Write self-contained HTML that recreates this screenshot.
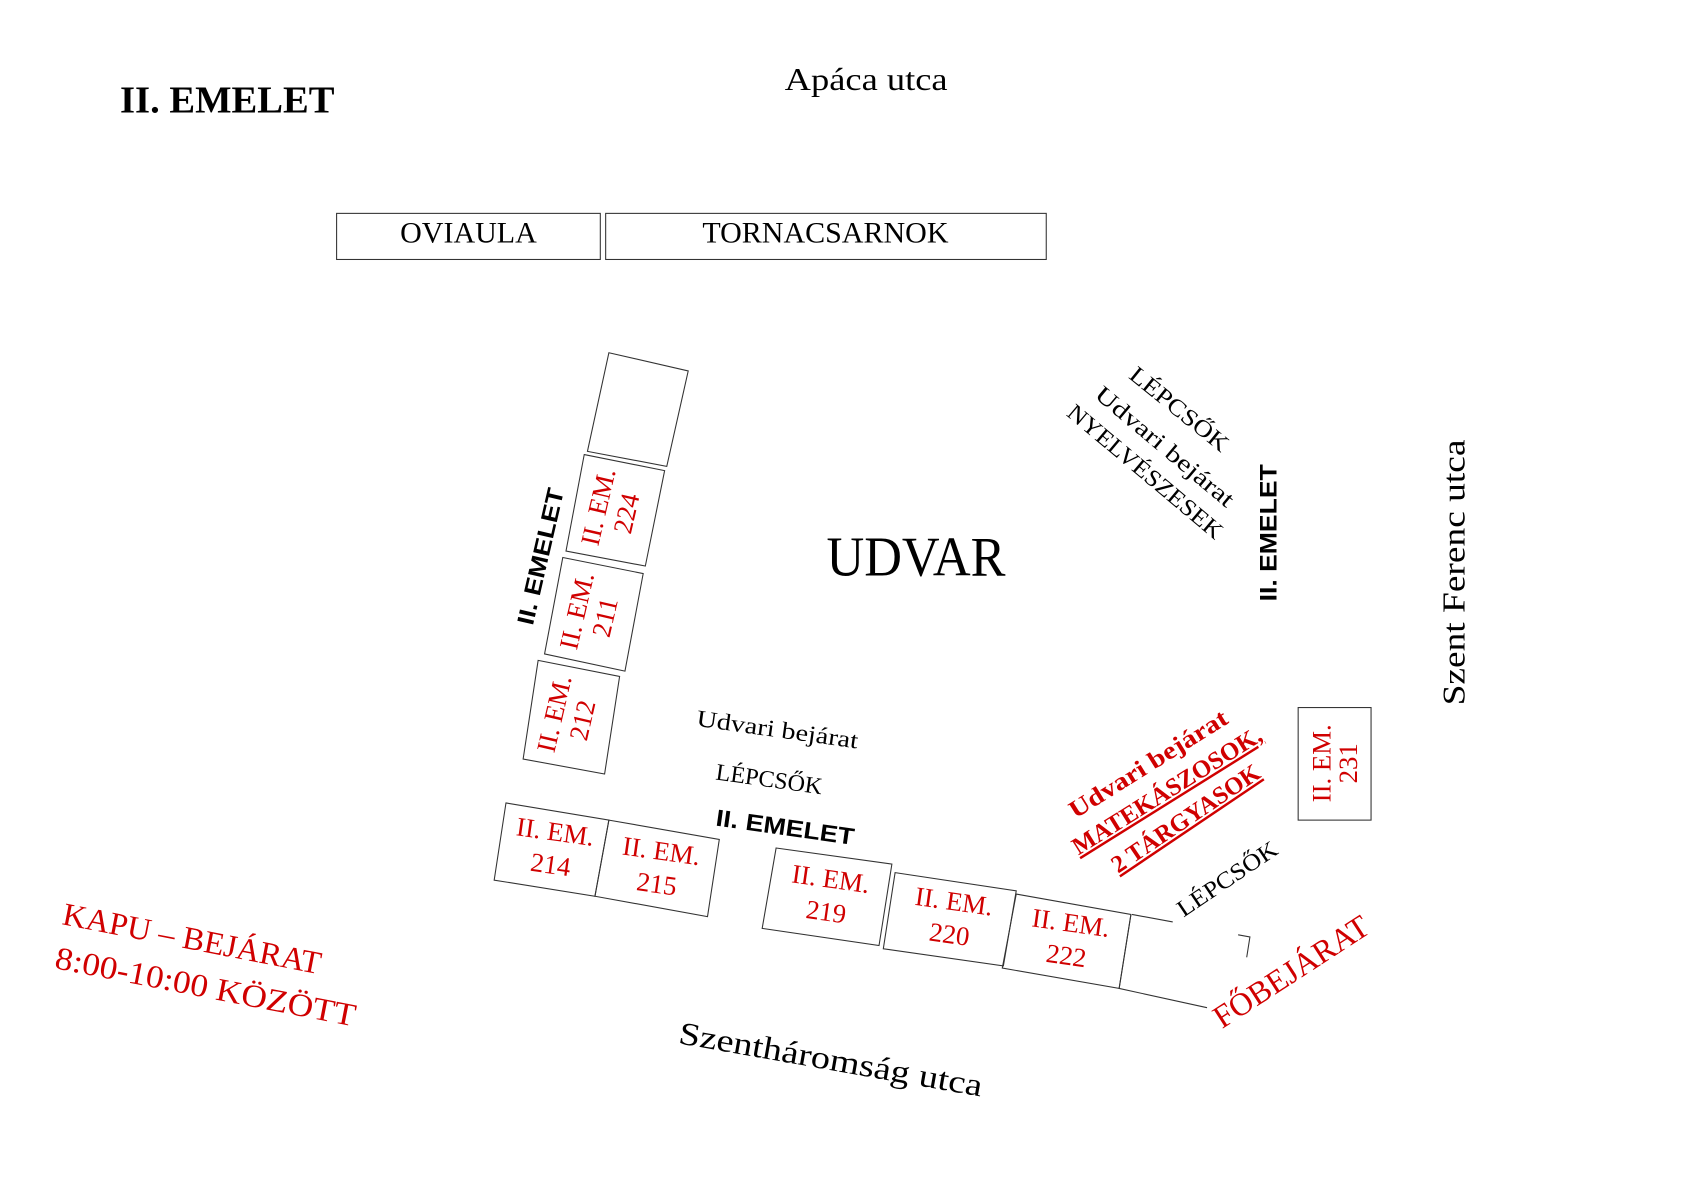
<!DOCTYPE html>
<html><head><meta charset="utf-8"><style>
html,body{margin:0;padding:0;background:#fff;}
svg{display:block}
.s{font-family:"Liberation Serif",serif;}
.b{font-family:"Liberation Sans",sans-serif;font-weight:bold;}
.r{fill:#d00000}
</style></head><body>
<svg width="1683" height="1190" viewBox="0 0 1570 1110" xmlns="http://www.w3.org/2000/svg">
<g fill="none" stroke="#333" stroke-width="1">
<rect x="314" y="199" width="246" height="43"/>
<rect x="565" y="199" width="411" height="43"/>
<polygon points="568,329 642,346 622,435 548,421"/>
<polygon points="545,424 620,439 602,528 528,514"/>
<polygon points="525,520 600,535 583,626 508,610"/>
<polygon points="502,616 578,631 564,722 488,708"/>
<polygon points="472,749 568,765 555,836 461,821"/>
<polygon points="568,765 671,783 660,855 555,836"/>
<polygon points="724,791 832,806 820,882 711,866"/>
<polygon points="835,814 948,831 936,901 824,885"/>
<polygon points="948,834 1055,853 1044,922 935,903"/>
<polyline points="1056,853 1094,860"/>
<polyline points="1055,853 1044,922 1126,940"/>
<polyline points="1155,872 1166,874 1163,893"/>
<rect x="1211" y="660" width="68" height="105"/>
</g>
<g class="s">
<text x="112" y="105" font-size="36" font-weight="bold">II. EMELET</text>
<text x="732" y="84" font-size="30" textLength="152" lengthAdjust="spacingAndGlyphs">Apáca utca</text>
<text x="437" y="226" font-size="28" text-anchor="middle">OVIAULA</text>
<text x="770" y="226" font-size="28" text-anchor="middle">TORNACSARNOK</text>
<text x="771" y="537" font-size="52" textLength="167" lengthAdjust="spacingAndGlyphs">UDVAR</text>
<g class="r" font-size="25" text-anchor="middle">
<g transform="translate(572,476) rotate(-77)"><text x="0" y="-6">II. EM.</text><text x="0" y="21">224</text></g>
<g transform="translate(552,573) rotate(-77)"><text x="0" y="-6">II. EM.</text><text x="0" y="21">211</text></g>
<g transform="translate(531,669) rotate(-77)"><text x="0" y="-6">II. EM.</text><text x="0" y="21">212</text></g>
<g transform="translate(516,790) rotate(8)"><text x="0" y="-6">II. EM.</text><text x="0" y="25">214</text></g>
<g transform="translate(615,808) rotate(8)"><text x="0" y="-6">II. EM.</text><text x="0" y="25">215</text></g>
<g transform="translate(773,834) rotate(8)"><text x="0" y="-6">II. EM.</text><text x="0" y="25">219</text></g>
<g transform="translate(888,855) rotate(8)"><text x="0" y="-6">II. EM.</text><text x="0" y="25">220</text></g>
<g transform="translate(997,875) rotate(8)"><text x="0" y="-6">II. EM.</text><text x="0" y="25">222</text></g>
<g transform="translate(1245,712) rotate(-90)"><text x="0" y="-4">II. EM.</text><text x="0" y="21">231</text></g>
</g>
<text transform="translate(649,677) rotate(8)" font-size="22" textLength="152" lengthAdjust="spacingAndGlyphs">Udvari bejárat</text>
<text transform="translate(667,727) rotate(8)" font-size="22" textLength="100" lengthAdjust="spacingAndGlyphs">LÉPCSŐK</text>
<text transform="translate(1052,352) rotate(39)" font-size="22" textLength="112" lengthAdjust="spacingAndGlyphs">LÉPCSŐK</text>
<text transform="translate(1020,370) rotate(40)" font-size="22" textLength="162" lengthAdjust="spacingAndGlyphs">Udvari bejárat</text>
<text transform="translate(994,387) rotate(40)" font-size="22" textLength="182" lengthAdjust="spacingAndGlyphs">NYELVÉSZESEK</text>
<text transform="translate(1366,658) rotate(-90)" font-size="30" textLength="248" lengthAdjust="spacingAndGlyphs">Szent Ferenc utca</text>
<g class="r" font-size="23" font-weight="bold" lengthAdjust="spacingAndGlyphs">
<text transform="translate(1003,764) rotate(-32)" textLength="170" lengthAdjust="spacingAndGlyphs">Udvari bejárat</text>
<text transform="translate(1006,798) rotate(-32)" textLength="204" lengthAdjust="spacingAndGlyphs" text-decoration="underline">MATEKÁSZOSOK,</text>
<text transform="translate(1043,815) rotate(-34)" textLength="162" lengthAdjust="spacingAndGlyphs" text-decoration="underline">2 TÁRGYASOK</text>
</g>
<text transform="translate(1104,856) rotate(-34)" font-size="22" textLength="108" lengthAdjust="spacingAndGlyphs">LÉPCSŐK</text>
<text class="r" transform="translate(1140,960) rotate(-33)" font-size="30">FŐBEJÁRAT</text>
<text class="r" transform="translate(57,862) rotate(11)" font-size="30" textLength="245" lengthAdjust="spacingAndGlyphs">KAPU – BEJÁRAT</text>
<text class="r" transform="translate(50,903) rotate(11)" font-size="30" textLength="285" lengthAdjust="spacingAndGlyphs">8:00-10:00 KÖZÖTT</text>
<text transform="translate(632,973) rotate(10)" font-size="30" textLength="287" lengthAdjust="spacingAndGlyphs">Szentháromság utca</text>
</g>
<g class="b" font-size="22">
<text transform="translate(497,584) rotate(-77)" textLength="130" lengthAdjust="spacingAndGlyphs">II. EMELET</text>
<text transform="translate(667,770) rotate(8)" textLength="130" lengthAdjust="spacingAndGlyphs">II. EMELET</text>
<text transform="translate(1191,561) rotate(-90)" textLength="128" lengthAdjust="spacingAndGlyphs">II. EMELET</text>
</g>
</svg>
</body></html>
